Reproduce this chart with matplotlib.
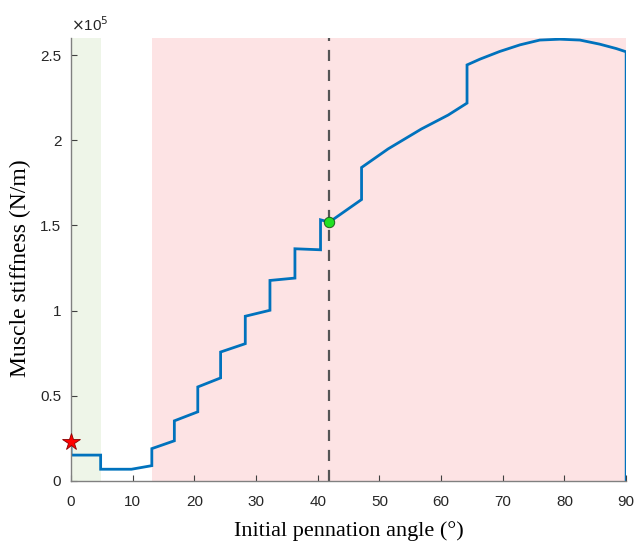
import matplotlib.pyplot as plt
from matplotlib.ticker import FuncFormatter

# Datos (rigidez en unidades de 1e5 N/m)
angulo = [0, 0, 4.8, 4.8, 9.8, 13.1, 13.1, 16.75, 16.75, 20.55, 20.55, 24.25, 24.25,
          28.25, 28.25, 32.25, 32.25, 36.3, 36.3, 40.45, 40.45, 41.86, 47.1, 47.1,
          51.4, 56.8, 61.15, 64.2, 64.2, 66.3, 69.5, 72.8, 76.0, 79.25, 82.5, 85.7,
          88.4, 90, 90]
rigidez = [0.227, 0.152, 0.152, 0.069, 0.069, 0.09, 0.19, 0.236, 0.353, 0.406, 0.552, 0.605, 0.757,
           0.806, 0.967, 1.002, 1.177, 1.191, 1.363, 1.357, 1.533, 1.519, 1.652, 1.840,
           1.949, 2.066, 2.148, 2.218, 2.442, 2.476, 2.521, 2.560, 2.588, 2.593, 2.588, 2.564,
           2.538, 2.519, 0.0]
escala = 1e5
rigidez_nm = [v * escala for v in rigidez]

zona_verde = (0, 4.85)
zona_roja = (13.1, 90)
angulo_opt = 41.86
rigidez_opt = 1.519
angulo_ini = 0
rigidez_ini = 0.227

azul = "#0072BD"

fig, ax = plt.subplots(figsize=(6.37, 5.43), dpi=100)
plt.subplots_adjust(left=0.1115, right=0.983, bottom=0.1142, top=0.930)

# Zonas sombreadas
ax.axvspan(*zona_verde, color="#EEF5E8", zorder=0, lw=0)
ax.axvspan(*zona_roja, color="#FDE3E4", zorder=0, lw=0)

# Linea vertical discontinua
ax.axvline(angulo_opt, color="#555555", lw=1.6, ls=(0, (5, 4)), zorder=2)

# Curva principal
ax.plot(angulo, rigidez_nm, color=azul, lw=2.0, zorder=3, solid_joinstyle='miter')

# Marcadores
ax.plot(angulo_ini, rigidez_ini * escala, marker='*', ms=13, mfc='red', mec='#8B0000',
        mew=0.6, zorder=5, clip_on=False)
ax.plot(angulo_opt, rigidez_opt * escala, marker='o', ms=7.5, mfc='#22E022', mec='#1E5E1E',
        mew=0.7, zorder=5)

ax.set_xlim(0, 90)
ax.set_ylim(0, 2.6 * escala)
ax.set_xticks(range(0, 91, 10))
ax.set_yticks([v * escala for v in [0, 0.5, 1, 1.5, 2, 2.5]])
ax.yaxis.set_major_formatter(FuncFormatter(lambda v, p: f"{v / escala:g}"))

for s in ['top', 'right']:
    ax.spines[s].set_visible(False)
for s in ['left', 'bottom']:
    ax.spines[s].set_color('#808080')
    ax.spines[s].set_linewidth(1.0)
    ax.spines[s].set_zorder(4)

ax.tick_params(direction='in', length=4, width=0.8, color='#404040',
               labelsize=11, labelcolor='#262626')
ax.tick_params(axis='x', pad=10)
ax.tick_params(axis='y', pad=7)
for lbl in ax.get_xticklabels() + ax.get_yticklabels():
    lbl.set_family('Liberation Sans')

ax.text(0.0, 1.008, r'$\times$10$^5$', transform=ax.transAxes, ha='left', va='bottom',
        fontsize=11, color='#262626', family='Liberation Sans')

ax.set_xlabel('Initial pennation angle (°)', fontsize=16, family='Liberation Serif', labelpad=9)
ax.set_ylabel('Muscle stiffness (N/m)', fontsize=17, family='Liberation Serif')
ax.yaxis.set_label_coords(-0.072, 0.48)

plt.savefig("out.png", dpi=100)
